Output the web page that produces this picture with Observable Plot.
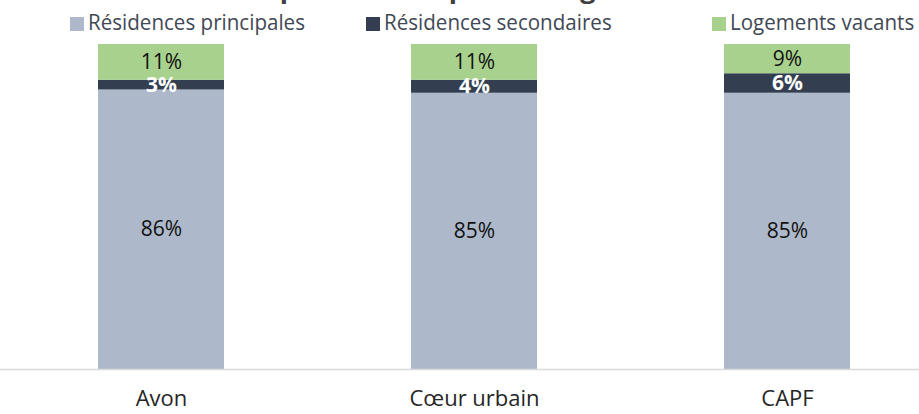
<!DOCTYPE html>
<html>
<head>
<meta charset="utf-8">
<script src="https://cdn.jsdelivr.net/npm/d3@7"></script>
<script src="https://cdn.jsdelivr.net/npm/@observablehq/plot@0.6"></script>
<style>
  html, body { margin: 0; padding: 0; background: #fff; }
  body { width: 919px; height: 414px; overflow: hidden; font-family: "Open Sans", sans-serif; }
  #header { position: relative; width: 919px; height: 40px; overflow: hidden; }
  #title { position: absolute; left: 0; width: 919px; top: -31px; text-align: center; font-weight: bold; font-size: 27px; color: #404040; white-space: nowrap; padding-left: 24px; box-sizing: border-box; }
  .leg { position: absolute; top: 6px; font-size: 22px; color: #404854; white-space: nowrap; line-height: 30px; }
  .leg span.sw { display: inline-block; width: 14px; height: 14px; margin-right: 4px; vertical-align: -1px; }
  .leg span.lt { display: inline-block; transform: scaleX(0.935); transform-origin: left center; }
</style>
</head>
<body>
<div id="header"><div id="title"></div></div>
<div id="chart"></div>
<script>
const title = "Répartition du parc de logements";
const categories = ["Avon", "Cœur urbain", "CAPF"];
const series = ["Résidences principales", "Résidences secondaires", "Logements vacants"];
const principales = [86, 85, 85];
const secondaires = [3, 4, 6];
const vacants = [11, 11, 9];
const colors = ["#adb9ca", "#333f50", "#a9d18e"];
const legendLeft = [70, 366, 712];

document.getElementById("title").textContent = title;
const header = document.getElementById("header");
series.forEach((s, i) => {
  const d = document.createElement("div");
  d.className = "leg";
  d.style.left = legendLeft[i] + "px";
  const sw = document.createElement("span");
  sw.className = "sw";
  sw.style.background = colors[i];
  d.appendChild(sw);
  const t = document.createElement("span");
  t.className = "lt";
  t.textContent = s;
  d.appendChild(t);
  header.appendChild(d);
});

const values = [principales, secondaires, vacants];
const data = [];
categories.forEach((c, ci) => {
  series.forEach((s, si) => data.push({cat: c, type: s, value: values[si][ci]}));
});

const stackOpts = {x: "cat", y: "value", z: "type", order: series};

const chart = Plot.plot({
  width: 919,
  height: 374,
  marginTop: 4,
  marginBottom: 45,
  marginLeft: 0,
  marginRight: 0,
  style: {fontFamily: "Open Sans, sans-serif", fontSize: "22px", color: "#262626", background: "#fff"},
  x: {domain: categories, range: [29, 919], paddingInner: 0.5987, paddingOuter: 0.2167, label: null, tickSize: 0, tickPadding: 21},
  y: {domain: [0, 100], axis: null},
  color: {domain: series, range: colors},
  marks: [
    Plot.barY(data, Plot.stackY({...stackOpts, fill: "type"})),
    Plot.ruleY([0], {stroke: "#d9d9d9", strokeWidth: 1.5}),
    Plot.text(data, Plot.stackY({...stackOpts,
      text: d => d.type !== series[1] ? d.value + "%" : null,
      fill: "#111", fontSize: 21})),
    Plot.text(data, Plot.stackY({...stackOpts,
      text: d => d.type === series[1] ? d.value + "%" : null,
      fill: "#fff", fontSize: 21, fontWeight: "bold"}))
  ]
});
document.getElementById("chart").appendChild(chart);
</script>
</body>
</html>
